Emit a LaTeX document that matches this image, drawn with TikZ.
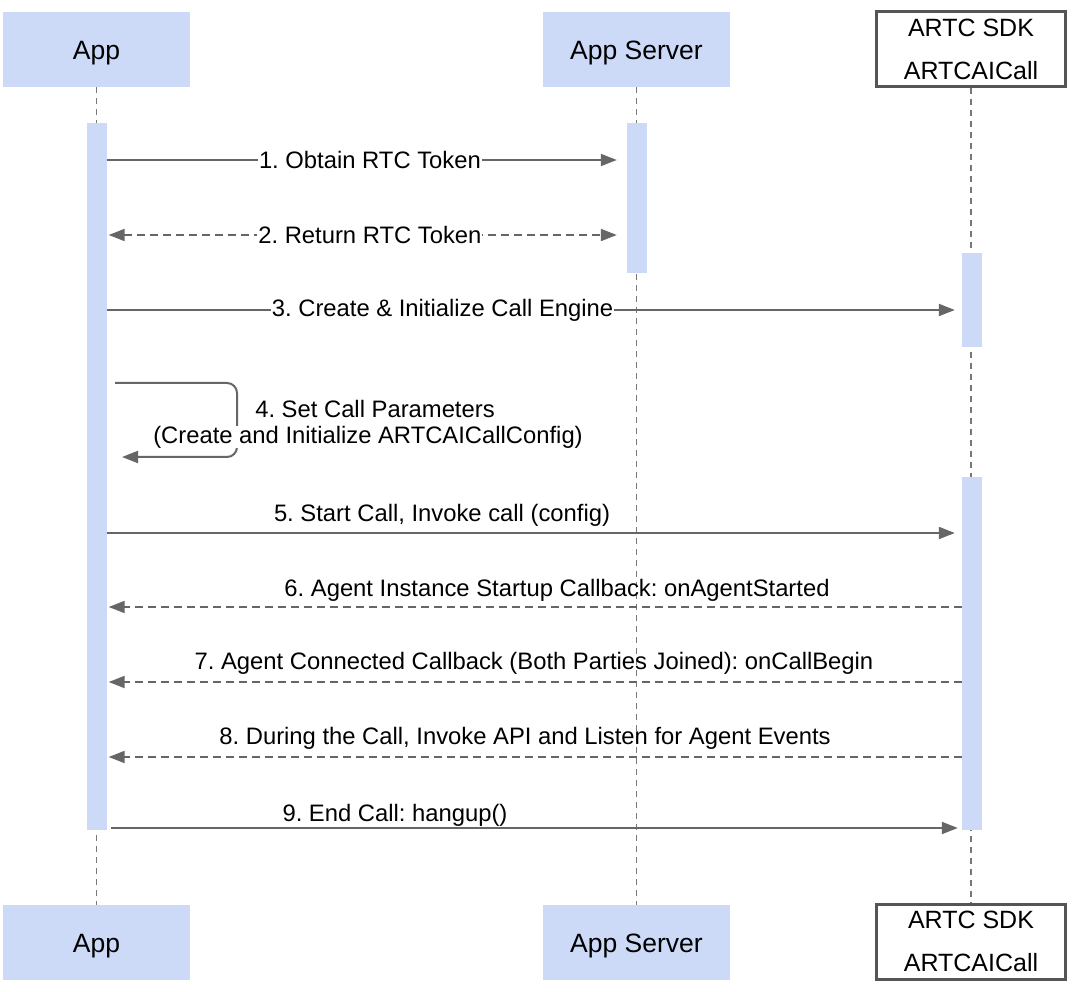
\documentclass[tikz,border=0pt]{standalone}
\usepackage{fontspec}
\setmainfont{Liberation Sans}
\usetikzlibrary{arrows.meta}
\definecolor{actblue}{HTML}{CCDAF8}
\definecolor{linegray}{HTML}{666666}
\definecolor{lifegray}{HTML}{777777}
\definecolor{boxgray}{HTML}{555555}
\frenchspacing
\begin{document}
\begin{tikzpicture}[x=1pt,y=-1pt,
  hdr/.style={fill=actblue, draw=none, minimum width=187pt, minimum height=75pt, inner sep=0pt, text height=25pt, text depth=5.5pt, font=\fontsize{26.5}{30}\selectfont},
  sdk/.style={draw=boxgray, line width=3pt, fill=white, minimum width=189pt, minimum height=75pt, inner sep=0pt, align=center, font=\fontsize{25}{43}\selectfont},
  life/.style={draw=lifegray, line width=1.5pt, dash pattern=on 6pt off 5pt},
  act/.style={fill=actblue, draw=none, minimum width=20pt, inner sep=0pt},
  msg/.style={draw=linegray, line width=2pt, -{Triangle[length=16pt,width=12pt]}},
  ret/.style={msg, dash pattern=on 8pt off 5pt},
  lbl/.style={font=\fontsize{23.8}{28}\selectfont, inner sep=1pt, text=black}
]
\useasboundingbox (0,0) rectangle (1072,992);
\fill[white] (0,0) rectangle (1072,992);

% participants
\node[hdr] (appT) at (96.5,49.5) {App};
\node[hdr] (srvT) at (636.5,49.5) {App Server};
\node[sdk] (sdkT) at (971,49) {ARTC SDK\\ARTCAICall};
\node[hdr] (appB) at (96.5,942.5) {App};
\node[hdr] (srvB) at (636.5,942.5) {App Server};
\node[sdk] (sdkB) at (971,941.5) {ARTC SDK\\ARTCAICall};

% lifelines
\draw[life] (appT.south) -- (appB.north);
\draw[life] (srvT.south) -- (srvB.north);
\draw[life] (sdkT.south) -- (sdkB.north);

% activation bars
\node[act, minimum height=707pt] (appAct) at (96.5,476.5) {};
\node[act, minimum height=150pt] (srvAct) at (637,198) {};
\node[act, minimum height=94pt] (sdkAct1) at (972,300) {};
\node[act, minimum height=353pt] (sdkAct2) at (972,653.5) {};

% y levels
\coordinate (y1) at (0,160);
\coordinate (y2) at (0,235);
\coordinate (y3) at (0,310);
\coordinate (y5) at (0,533);
\coordinate (y6) at (0,607);
\coordinate (y7) at (0,682);
\coordinate (y8) at (0,757);
\coordinate (y9) at (0,828);

% 1
\draw[msg] (appAct.east |- y1) -- node[lbl, fill=white, pos=0.516] (l1) {1. Obtain RTC Token} ([xshift=-10pt]srvAct.west |- y1);
% 2
\draw[ret, {Triangle[length=16pt,width=12pt]}-{Triangle[length=16pt,width=12pt]}] ([xshift=2pt]appAct.east |- y2) -- node[lbl, fill=white, pos=0.514] (l2) {2. Return RTC Token} ([xshift=-10pt]srvAct.west |- y2);
% 3
\draw[msg] (appAct.east |- y3) -- node[lbl, fill=white, pos=0.396] (l3) {3. Create \& Initialize Call Engine} ([xshift=-7pt]sdkAct1.west |- y3);
% 4 self call
\coordinate (s4a) at (115,383);
\coordinate (s4b) at (122,457);
\draw[msg, rounded corners=10pt] (s4a) -- (237,383) -- (237,457) -- (s4b);
\node[lbl] (l4a) at (375,409) {4. Set Call Parameters};
\node[lbl, fill=white, inner sep=0pt] (l4b) at (368,437) {(Create and Initialize ARTCAICallConfig)};
% 5
\draw[msg] (appAct.east |- y5) -- ([xshift=-7pt]sdkAct2.west |- y5);
\node[lbl] (l5) at (442,515) {5. Start Call, Invoke call (config)};
% 6
\draw[ret] (sdkAct2.west |- y6) -- ([xshift=2pt]appAct.east |- y6);
\node[lbl] (l6) at (557,590) {6. Agent Instance Startup Callback: onAgentStarted};
% 7
\draw[ret] (sdkAct2.west |- y7) -- ([xshift=2pt]appAct.east |- y7);
\node[lbl] (l7) at (534,663) {7. Agent Connected Callback (Both Parties Joined): onCallBegin};
% 8
\draw[ret] (sdkAct2.west |- y8) -- ([xshift=2pt]appAct.east |- y8);
\node[lbl] (l8) at (525,738) {8. During the Call, Invoke API and Listen for Agent Events};
% 9
\draw[msg] ([xshift=4pt]appAct.east |- y9) -- ([xshift=-4pt]sdkAct2.west |- y9);
\node[lbl] (l9) at (395,815) {9. End Call: hangup()};
\end{tikzpicture}
\end{document}
